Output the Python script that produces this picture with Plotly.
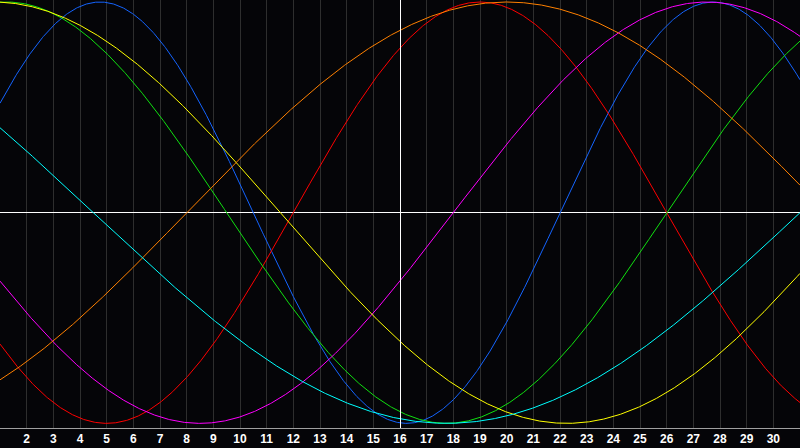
import numpy as np
import plotly.graph_objects as go

# Biorhythm cycles
cycle_names = ["Physical", "Emotional", "Intellectual", "Intuitive", "Aesthetic", "Awareness", "Spiritual"]
cycle_periods = [23, 28, 33, 38, 43, 48, 53]
cycle_rising_zero_day = [22, 12, 26, 18, 33, 8, 31]
cycle_colors = ["#1464ff", "#ff0000", "#10e010", "#ff00ff", "#ffff00", "#ff8000", "#00ffff"]

day_labels = [str(d) for d in range(2, 31)]
day_ticks = list(range(2, 31))
first_day, last_day = 1, 31
today = 16

WIDTH, HEIGHT = 800, 448
days = np.linspace(first_day, last_day, 1201)

fig = go.Figure()
for name, period, zero_day, color in zip(cycle_names, cycle_periods, cycle_rising_zero_day, cycle_colors):
    values = np.sin(2 * np.pi * (days - zero_day) / period)
    fig.add_trace(go.Scatter(x=days, y=values, mode="lines", name=name,
                             line=dict(color=color, width=1), hoverinfo="skip"))

# half-pixel nudge so the 1px "today" marker renders crisp
half_px = (last_day - first_day) / WIDTH / 2
fig.add_shape(type="line", x0=today + half_px, x1=today + half_px, y0=0, y1=1, xref="x", yref="paper",
              line=dict(color="#ffffff", width=1), layer="above")

fig.update_layout(
    width=WIDTH, height=HEIGHT,
    margin=dict(l=0, r=0, t=0, b=20),
    paper_bgcolor="#050508", plot_bgcolor="#050508",
    showlegend=False,
    xaxis=dict(range=[first_day, last_day], tickvals=day_ticks, ticktext=day_labels,
               showgrid=True, gridcolor="#2e2e2e", gridwidth=1, zeroline=False,
               showline=True, linecolor="#a0a0a0", linewidth=1, mirror=True,
               ticks="", tickfont=dict(family="Liberation Sans", size=12, color="#ffffff", weight="bold")),
    yaxis=dict(range=[-1.022, 1.0095], showgrid=False, showticklabels=False, ticks="",
               zeroline=True, zerolinecolor="#ffffff", zerolinewidth=1,
               showline=True, linecolor="#a0a0a0", linewidth=1),
)

fig.write_html("out.html", config={"displayModeBar": False},
               post_script="document.body.style.margin='0';document.body.style.overflow='hidden';")
